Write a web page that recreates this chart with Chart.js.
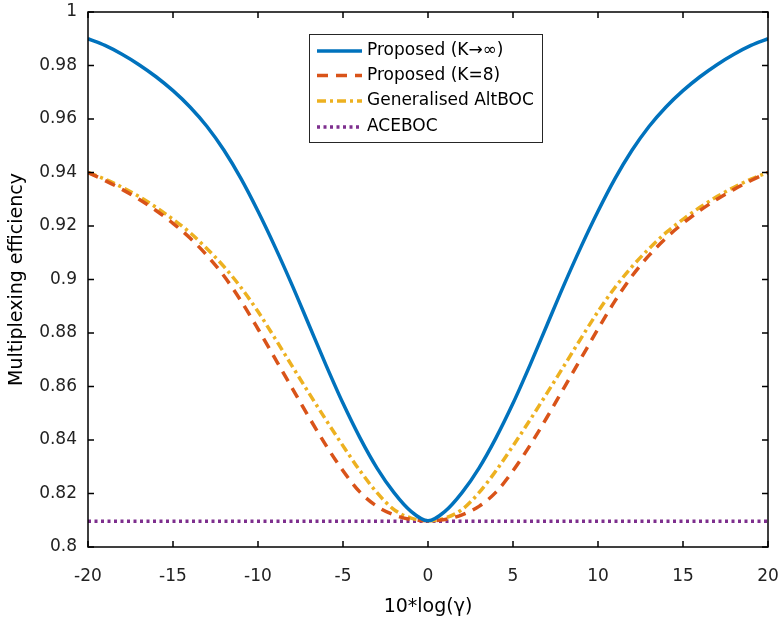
<!DOCTYPE html>
<html>
<head>
<meta charset="utf-8">
<script src="https://cdn.jsdelivr.net/npm/chart.js@4.4.1/dist/chart.umd.min.js"></script>
<style>
  html, body { margin: 0; padding: 0; background: #fff; }
  #wrap { width: 781px; height: 622px; }
</style>
</head>
<body>
<div id="wrap"><canvas id="c" width="781" height="622"></canvas></div>
<script>
// x values: 10*log(gamma)
const xs = [-20,-19,-18,-17,-16,-15,-14,-13,-12,-11,-10,-9,-8,-7,-6,-5,-4,-3,-2,-1,0,1,2,3,4,5,6,7,8,9,10,11,12,13,14,15,16,17,18,19,20];
const proposedInf = [0.990,0.9875,0.9842,0.9803,0.9758,0.9706,0.9645,0.9572,0.9483,0.9377,0.9255,0.9122,0.898,0.883,0.868,0.8537,0.8408,0.8295,0.8203,0.8133,0.8098,0.8133,0.8203,0.8295,0.8408,0.8537,0.868,0.883,0.898,0.9122,0.9255,0.9377,0.9483,0.9572,0.9645,0.9706,0.9758,0.9803,0.9842,0.9875,0.990];
const proposedK8 = [0.940,0.937,0.9337,0.930,0.9258,0.921,0.9155,0.909,0.9013,0.892,0.8815,0.8705,0.8595,0.8485,0.838,0.8285,0.8205,0.8152,0.812,0.8103,0.8098,0.8103,0.812,0.8152,0.8205,0.8285,0.838,0.8485,0.8595,0.8705,0.8815,0.892,0.9013,0.909,0.9155,0.921,0.9258,0.930,0.9337,0.937,0.940];
const genAltBOC = [0.940,0.9375,0.9345,0.931,0.927,0.9225,0.9175,0.9115,0.9048,0.897,0.888,0.878,0.8677,0.8575,0.8475,0.8378,0.8285,0.8203,0.814,0.8108,0.8098,0.8108,0.814,0.8203,0.8285,0.8378,0.8475,0.8575,0.8677,0.878,0.888,0.897,0.9048,0.9115,0.9175,0.9225,0.927,0.931,0.9345,0.9375,0.940];
const aceboc = [0.8096,0.8096];
const acebocX = [-20,20];
const xTicks = [-20,-15,-10,-5,0,5,10,15,20];
const yTicks = [0.8,0.82,0.84,0.86,0.88,0.9,0.92,0.94,0.96,0.98,1];
const seriesNames = ['Proposed (K\u2192\u221E)','Proposed (K=8)','Generalised AltBOC','ACEBOC'];

const FONT = '"DejaVu Sans", "Liberation Sans", Arial, sans-serif';
const toPts = (X, Y) => X.map((x, i) => ({x: x, y: Y[i]}));

const boxPlugin = {
  id: 'matlabBox',
  afterDraw(chart) {
    const ctx = chart.ctx, a = chart.chartArea;
    const xs_ = chart.scales.x, ys_ = chart.scales.y;
    ctx.save();
    ctx.strokeStyle = '#000';
    ctx.lineWidth = 1.5;
    ctx.strokeRect(a.left, a.top, a.right - a.left, a.bottom - a.top);
    const L = 6;
    ctx.beginPath();
    xs_.ticks.forEach(t => {
      const p = xs_.getPixelForValue(t.value);
      ctx.moveTo(p, a.bottom); ctx.lineTo(p, a.bottom - L);
      ctx.moveTo(p, a.top); ctx.lineTo(p, a.top + L);
    });
    ys_.ticks.forEach(t => {
      const p = ys_.getPixelForValue(t.value);
      ctx.moveTo(a.left, p); ctx.lineTo(a.left + L, p);
      ctx.moveTo(a.right, p); ctx.lineTo(a.right - L, p);
    });
    ctx.stroke();

    // legend
    const bx = 309, by = 34, bw = 233, bh = 108;
    ctx.fillStyle = '#fff';
    ctx.fillRect(bx, by, bw, bh);
    ctx.strokeStyle = '#262626';
    ctx.lineWidth = 1;
    ctx.strokeRect(bx + 0.5, by + 0.5, bw, bh);
    const rows = [51, 75.5, 101, 127];
    chart.data.datasets.forEach((ds, i) => {
      const y = rows[i];
      ctx.beginPath();
      ctx.strokeStyle = ds.borderColor;
      ctx.lineWidth = ds.borderWidth;
      ctx.setLineDash(ds.borderDash || []);
      ctx.moveTo(317, y); ctx.lineTo(362, y);
      ctx.stroke();
      ctx.setLineDash([]);
      ctx.fillStyle = '#000';
      ctx.font = '17px ' + FONT;
      ctx.textBaseline = 'middle';
      ctx.textAlign = 'left';
      ctx.fillText(ds.label, 367, y);
    });
    ctx.restore();
  }
};

new Chart(document.getElementById('c'), {
  type: 'line',
  data: {
    datasets: [
      { label: seriesNames[0], data: toPts(xs, proposedInf), borderColor: '#0072BD', borderWidth: 3.5, pointRadius: 0, cubicInterpolationMode: 'monotone', fill: false },
      { label: seriesNames[1], data: toPts(xs, proposedK8), borderColor: '#D95319', borderWidth: 3.5, borderDash: [11, 8], pointRadius: 0, cubicInterpolationMode: 'monotone', fill: false },
      { label: seriesNames[2], data: toPts(xs, genAltBOC), borderColor: '#EDB120', borderWidth: 3.5, borderDash: [9, 4, 3, 4], pointRadius: 0, cubicInterpolationMode: 'monotone', fill: false },
      { label: seriesNames[3], data: toPts(acebocX, aceboc), borderColor: '#7E2F8E', borderWidth: 3.5, borderDash: [3, 3.5], pointRadius: 0, fill: false }
    ]
  },
  options: {
    responsive: false,
    animation: false,
    devicePixelRatio: 1,
    layout: { padding: { top: 12, right: 13, left: 0, bottom: 0 } },
    plugins: { legend: { display: false }, tooltip: { enabled: false } },
    scales: {
      x: {
        type: 'linear', min: -20, max: 20,
        afterBuildTicks: s => { s.ticks = xTicks.map(v => ({ value: v })); },
        afterFit: s => { s.height = 75; s.paddingLeft = 0; s.paddingRight = 0; },
        grid: { display: false, drawTicks: false },
        border: { display: false },
        ticks: { color: '#222', font: { family: FONT, size: 17 }, padding: 19, maxRotation: 0, autoSkip: false,
                 callback: v => String(v) },
        title: { display: true, text: '10*log(\u03B3)', color: '#000', font: { family: FONT, size: 19 }, padding: { top: 0, bottom: 4 } }
      },
      y: {
        type: 'linear', min: 0.8, max: 1,
        afterBuildTicks: s => { s.ticks = yTicks.map(v => ({ value: v })); },
        afterFit: s => { s.width = 88; s.paddingTop = 0; s.paddingBottom = 0; },
        grid: { display: false, drawTicks: false },
        border: { display: false },
        ticks: { color: '#222', font: { family: FONT, size: 17 }, padding: 11, autoSkip: false,
                 callback: v => String(Math.round(v * 100) / 100) },
        title: { display: true, text: 'Multiplexing efficiency', color: '#000', font: { family: FONT, size: 19 }, padding: { top: 6, bottom: 0 } }
      }
    }
  },
  plugins: [boxPlugin]
});
</script>
</body>
</html>
